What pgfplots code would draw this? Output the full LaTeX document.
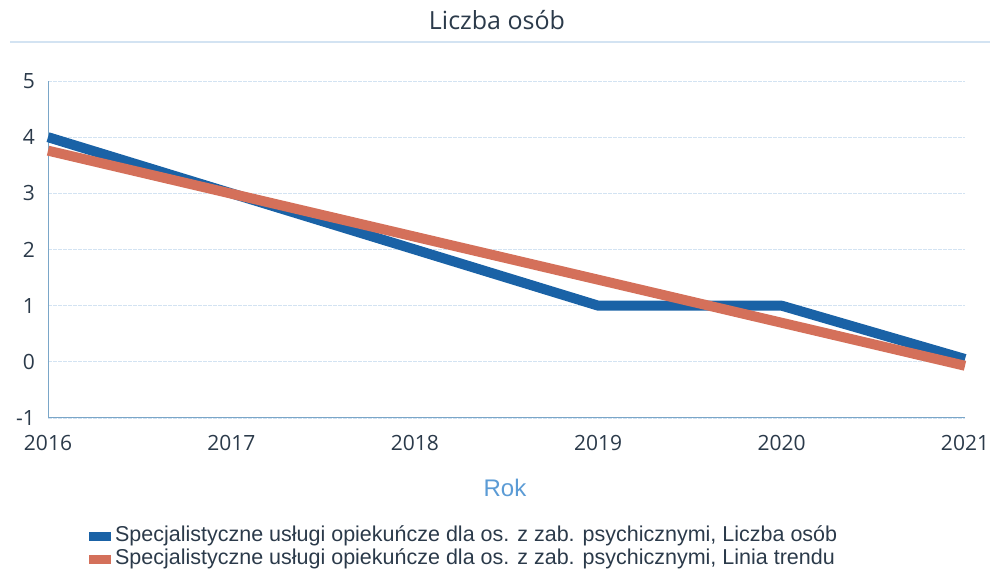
\documentclass[border=0pt]{standalone}
\usepackage{fontspec}
\setmainfont{Open Sans}
\newfontfamily\arialfont{Liberation Sans}
\usepackage{pgfplots}
\pgfplotsset{compat=1.18}

\definecolor{serblue}{HTML}{1A62A6}
\definecolor{trendred}{HTML}{D4705A}
\definecolor{txtdark}{HTML}{2B3A4A}
\definecolor{axisblue}{HTML}{7AA6C8}
\definecolor{gridblue}{HTML}{D3E3F2}
\definecolor{roklabel}{HTML}{5B9BD5}

\begin{document}
\begin{tikzpicture}
\useasboundingbox (0pt,0pt) rectangle (991pt,577pt);

% title and the rule under it
\node[text=txtdark, font=\fontsize{25}{29}\selectfont] at (497pt,557pt) {Liczba osób};
\draw[gridblue, line width=2pt] (10pt,535pt) -- (990pt,535pt);

\begin{axis}[
  at={(48pt,159pt)}, anchor=south west,
  scale only axis,
  width=917pt, height=337pt,
  xmin=2016, xmax=2021,
  ymin=-1, ymax=5,
  xtick={2016,2017,2018,2019,2020,2021},
  ytick={-1,0,1,2,3,4,5},
  axis x line*=bottom, axis y line*=left,
  axis line style={axisblue, line width=1pt},
  major tick length=0pt,
  ymajorgrids,
  major grid style={gridblue, line width=0.8pt, dashed, dash pattern=on 4pt off 1pt},
  /pgf/number format/assume math mode=true,
  xticklabel style={/pgf/number format/1000 sep=, anchor=center, yshift=-25pt,
    text=txtdark, font=\fontsize{21}{25}\selectfont},
  yticklabel style={anchor=east, inner sep=0pt, xshift=-13pt,
    text=txtdark, font=\fontsize{21}{25}\selectfont},
  clip=false,
  legend style={at={(0.044,-0.315)}, anchor=north west, draw=none, fill=none,
    font=\arialfont\fontsize{21.5}{25}\selectfont, text=txtdark,
    row sep=0pt, inner sep=0pt,
    nodes={inner sep=1.5pt, text height=15.5pt, text depth=5pt}},
  legend cell align=left,
  legend image code/.code={\fill[#1, draw=none] (0pt,-4.5pt) rectangle (22pt,4.5pt);},
]
\addplot[serblue, line width=10pt, line join=round] coordinates {
 (2016,4) (2017,3) (2018,2) (2019,1) (2020,1) (2021,0.05)
};
\addlegendentry{\hspace{3pt}Specjalistyczne usługi opiekuńcze dla os. z zab. psychicznymi, Liczba osób}
\addplot[trendred, line width=10pt] coordinates {
 (2016,3.76) (2021,-0.07)
};
\addlegendentry{\hspace{3pt}Specjalistyczne usługi opiekuńcze dla os. z zab. psychicznymi, Linia trendu}
\end{axis}

\node[text=roklabel, font=\arialfont\fontsize{24}{28}\selectfont] at (505pt,89pt) {Rok};
\end{tikzpicture}
\end{document}
